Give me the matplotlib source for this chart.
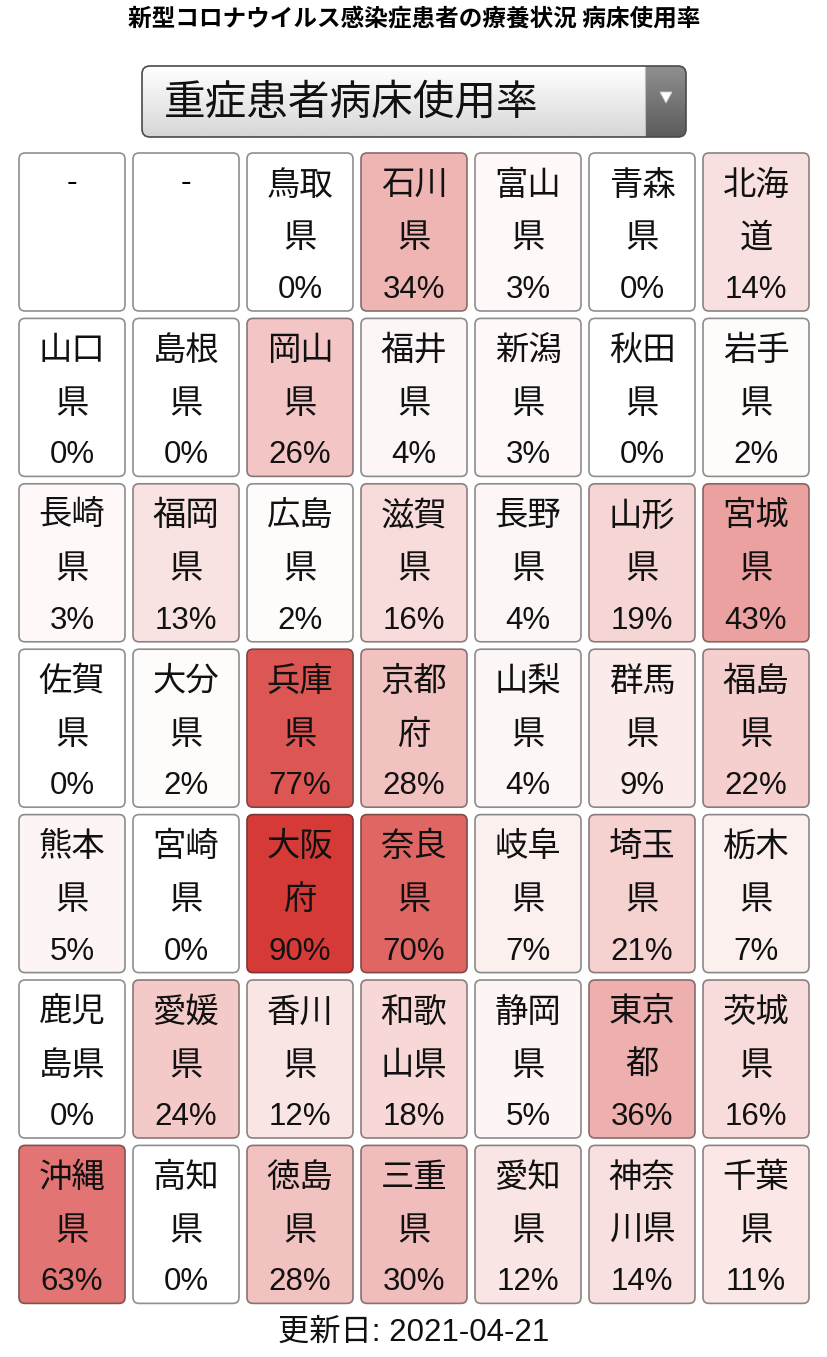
import numpy as np
import matplotlib
matplotlib.use("Agg")
from matplotlib import pyplot as plt
from matplotlib.patches import FancyBboxPatch, Polygon

plt.rcParams['font.family'] = ['Noto Sans CJK JP', 'DejaVu Sans']
LATIN = ['Liberation Sans', 'Noto Sans CJK JP']

title = "新型コロナウイルス感染症患者の療養状況 病床使用率"
selector = "重症患者病床使用率"
updated = "更新日: 2021-04-21"

# grid of prefectures, row by row ("-" = empty cell)
names = [
    ["-", "-", "鳥取県", "石川県", "富山県", "青森県", "北海道"],
    ["山口県", "島根県", "岡山県", "福井県", "新潟県", "秋田県", "岩手県"],
    ["長崎県", "福岡県", "広島県", "滋賀県", "長野県", "山形県", "宮城県"],
    ["佐賀県", "大分県", "兵庫県", "京都府", "山梨県", "群馬県", "福島県"],
    ["熊本県", "宮崎県", "大阪府", "奈良県", "岐阜県", "埼玉県", "栃木県"],
    ["鹿児島県", "愛媛県", "香川県", "和歌山県", "静岡県", "東京都", "茨城県"],
    ["沖縄県", "高知県", "徳島県", "三重県", "愛知県", "神奈川県", "千葉県"],
]
rates = [
    [None, None, 0, 34, 3, 0, 14],
    [0, 0, 26, 4, 3, 0, 2],
    [3, 13, 2, 16, 4, 19, 43],
    [0, 2, 77, 28, 4, 9, 22],
    [5, 0, 90, 70, 7, 21, 7],
    [0, 24, 12, 18, 5, 36, 16],
    [63, 0, 28, 30, 12, 14, 11],
]

W, H = 828, 1357
fig = plt.figure(figsize=(W / 100, H / 100), dpi=100)
ax = fig.add_axes([0, 0, 1, 1])
ax.set_xlim(0, W)
ax.set_ylim(H, 0)
ax.axis("off")

base = np.array([209, 36, 32]) / 255.0


def cell_color(v):
    if v is None:
        return np.array([1.0, 1.0, 1.0])
    a = v / 100.0
    return 1 - a * (1 - base)


ax.text(W / 2, 18, title, ha="center", va="center", fontsize=17,
        fontweight="bold")

# dropdown box
x0, y0, bw, bh = 142, 66, 544, 71
grad = np.linspace(1.0, 0.84, 50)[:, None] * np.ones((1, 2))
img = ax.imshow(grad, cmap="gray", vmin=0, vmax=1, extent=(x0, x0 + bw, y0 + bh, y0),
                aspect="auto", zorder=1)
box = FancyBboxPatch((x0, y0), bw, bh, boxstyle="round,pad=0,rounding_size=8",
                     fc="none", ec="#4a4a4a", lw=1.2, zorder=3)
ax.add_patch(box)
img.set_clip_path(box)
grad2 = np.linspace(0.56, 0.36, 50)[:, None] * np.ones((1, 2))
img2 = ax.imshow(grad2, cmap="gray", vmin=0, vmax=1,
                 extent=(645, x0 + bw, y0 + bh, y0), aspect="auto", zorder=2)
img2.set_clip_path(box)
ax.plot([645, 645], [y0, y0 + bh], color="#bdbdbd", lw=0.8, zorder=2)
ax.add_patch(Polygon([[660, 92], [672, 92], [666, 103]], closed=True,
                     fc="white", ec="#cccccc", lw=0.6, zorder=4))
ax.text(164, y0 + bh / 2 + 1, selector, ha="left", va="center", fontsize=30,
        color="#111111", zorder=4)

# cells
left0, col_pitch, cw = 19, 114, 106
top0, row_pitch, ch = 153, 165.4, 158
for r, row in enumerate(names):
    for c, name in enumerate(row):
        v = rates[r][c]
        fc = cell_color(v)
        ec = 0.45 * fc + 0.55 * np.array([0.2, 0.2, 0.2])
        x = left0 + c * col_pitch
        y = top0 + r * row_pitch
        ax.add_patch(FancyBboxPatch((x, y), cw, ch,
                                    boxstyle="round,pad=0,rounding_size=6",
                                    fc=fc, ec=ec, lw=1.2))
        cx = x + cw / 2
        if v is None:
            ax.text(cx, y + 30, name, ha="center", va="center", fontsize=23,
                    family=LATIN)
            continue
        ax.text(cx, y + 32, name[:2], ha="center", va="center", fontsize=24,
                color="#111111")
        ax.text(cx, y + 85, name[2:], ha="center", va="center", fontsize=24,
                color="#111111")
        ax.text(cx, y + 137, f"{v}%", ha="center", va="center", fontsize=22.5,
                color="#111111", family=LATIN)

ax.text(W / 2, 1333, updated, ha="center", va="center", fontsize=22.5,
        color="#111111", family=LATIN)

fig.savefig("out.png", dpi=100)
